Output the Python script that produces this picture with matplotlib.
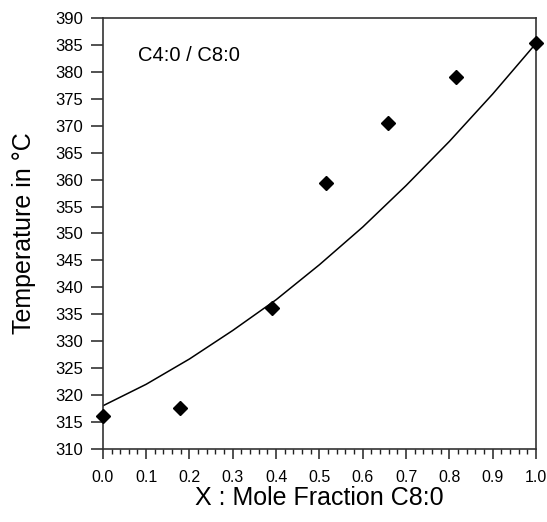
import matplotlib.pyplot as plt
from matplotlib.ticker import MultipleLocator, FormatStrFormatter

plt.rcParams['font.family'] = ['Liberation Sans', 'DejaVu Sans']

# measured points
x_meas = [0.0, 0.178, 0.391, 0.516, 0.658, 0.815, 1.0]
t_meas = [316.2, 317.6, 336.1, 359.4, 370.5, 379.1, 385.4]

x_fit = [0.0, 0.1, 0.2, 0.3, 0.4, 0.5, 0.6, 0.7, 0.8, 0.9, 1.0]
t_fit = [318.0, 322.0, 326.7, 332.0, 337.7, 344.2, 351.2, 358.9, 367.1, 375.9, 385.3]

fig = plt.figure(figsize=(5.47, 5.22), dpi=100)
ax = fig.add_axes([0.188, 0.140, 0.792, 0.8255])

ax.plot(x_fit, t_fit, color='black', lw=1.1)
ax.plot(x_meas, t_meas, 'D', color='black', markersize=7, clip_on=False, zorder=5)

ax.set_xlim(0, 1)
ax.set_ylim(310, 390)
ax.xaxis.set_major_locator(MultipleLocator(0.1))
ax.xaxis.set_minor_locator(MultipleLocator(0.02))
ax.xaxis.set_major_formatter(FormatStrFormatter('%.1f'))
ax.yaxis.set_major_locator(MultipleLocator(5))

ax.tick_params(axis='y', which='major', direction='out', length=9, width=1.1,
               labelsize=12, color='#222222', pad=5)
ax.tick_params(axis='x', which='major', direction='out', length=7, width=1.1,
               labelsize=11.5, color='#222222', pad=8)
ax.tick_params(axis='x', which='minor', direction='out', length=3.5, width=1.0, color='#222222')
for s in ax.spines.values():
    s.set_linewidth(1.2)
    s.set_color('#333333')

ax.set_xlabel('X : Mole Fraction C8:0', fontsize=18, labelpad=1)
ax.set_ylabel('Temperature in °C', fontsize=18, labelpad=14)

ax.text(0.081, 0.914, 'C4:0 / C8:0', transform=ax.transAxes, fontsize=14.5,
        ha='left', va='center')

fig.savefig('out.png', dpi=100)
